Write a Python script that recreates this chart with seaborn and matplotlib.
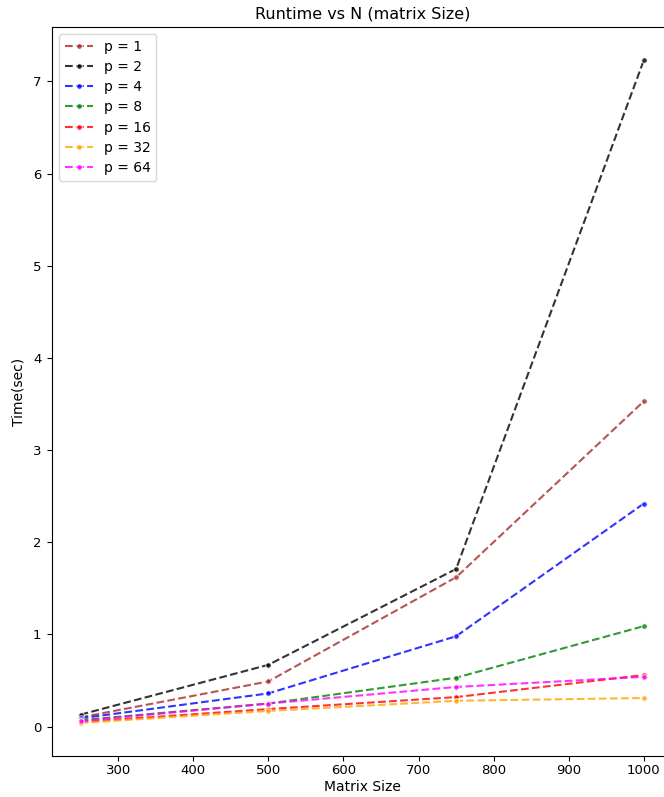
import pandas as pd
import matplotlib
matplotlib.use("Agg")
import matplotlib.pyplot as plt
import seaborn as sns

# matrix sizes and runtimes (sec) per process count
sizes = [250, 500, 750, 1000]
procs = [1, 2, 4, 8, 16, 32, 64]
t_p1 = [0.10, 0.49, 1.62, 3.53]
t_p2 = [0.13, 0.67, 1.71, 7.23]
t_p4 = [0.09, 0.36, 0.98, 2.42]
t_p8 = [0.07, 0.25, 0.53, 1.09]
t_p16 = [0.05, 0.19, 0.32, 0.56]
t_p32 = [0.04, 0.17, 0.28, 0.31]
t_p64 = [0.06, 0.25, 0.43, 0.54]
colors = ['brown', 'black', 'blue', 'green', 'red', 'orange', 'magenta']

times = [t_p1, t_p2, t_p4, t_p8, t_p16, t_p32, t_p64]

fig, ax = plt.subplots(figsize=(6.64, 7.97), dpi=100)
for p, t, c in zip(procs, times, colors):
    df = pd.DataFrame({'size': sizes, 'time': t})
    sns.lineplot(data=df, x='size', y='time', ax=ax, color=c, linestyle='--',
                 marker='o', markersize=4, alpha=0.8, label=f'p = {p}')

ax.set_title('Runtime vs N (matrix Size)', fontsize=11.5)
ax.set_xlabel('Matrix Size', labelpad=2)
ax.set_ylabel('Time(sec)', labelpad=5)
ax.tick_params(axis='x', labelsize=9.5, pad=2.5)
ax.tick_params(axis='y', labelsize=9.5, pad=4.5)
ax.legend(loc='upper left', fontsize=10, labelspacing=0.45)
fig.subplots_adjust(left=0.079, right=1.012, top=0.966, bottom=0.0514)
fig.savefig('out.png', dpi=100)
